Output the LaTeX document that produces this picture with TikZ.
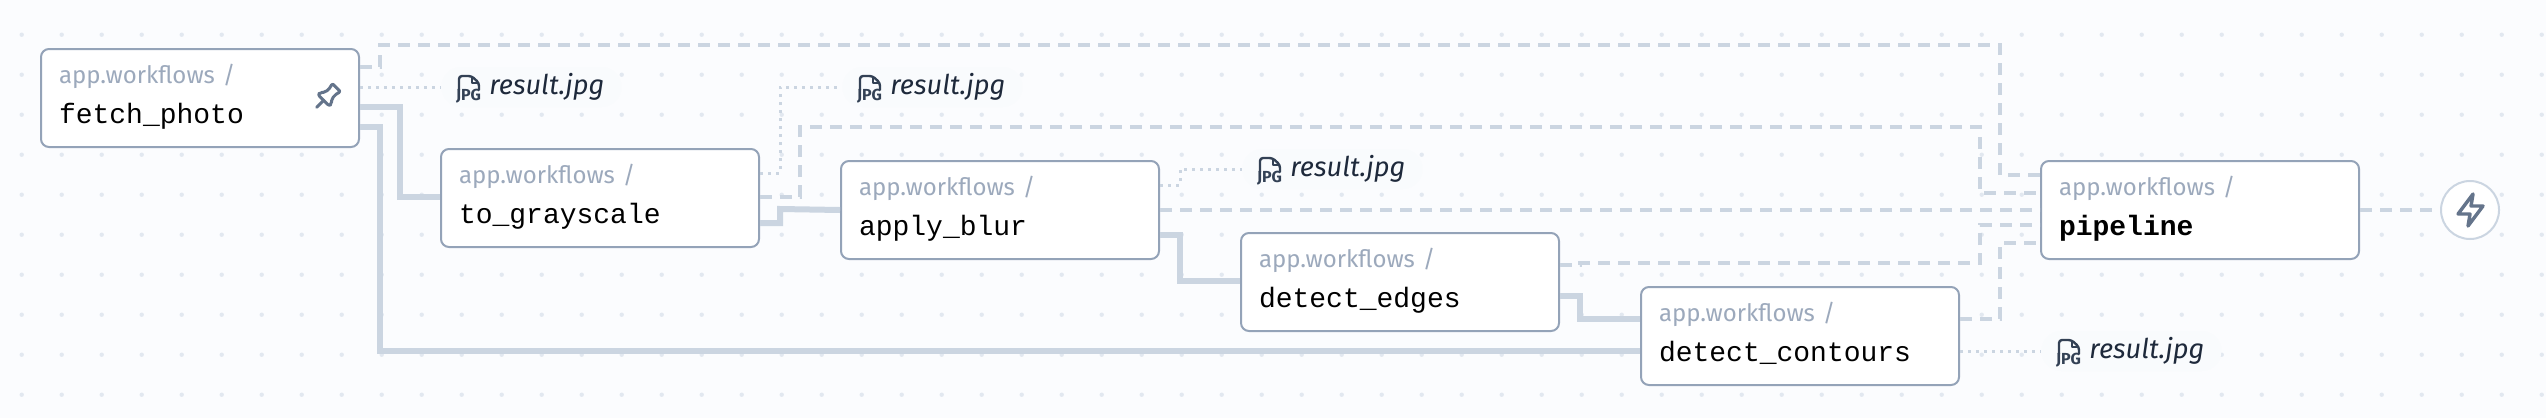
\documentclass[tikz,border=0pt]{standalone}
\usepackage{fontspec}
\setmainfont{Fira Sans}
\newfontfamily\codefont{Liberation Mono}
\usetikzlibrary{calc}
\definecolor{canvasbg}{HTML}{FBFCFE}
\definecolor{griddot}{HTML}{E2E8F0}
\definecolor{edgeline}{HTML}{CBD5E1}
\definecolor{boxline}{HTML}{94A3B8}
\definecolor{pkgtext}{HTML}{9CA9BC}
\definecolor{iconline}{HTML}{64748B}
\definecolor{chipfill}{HTML}{F9FBFD}
\definecolor{chiptext}{HTML}{1E293B}
\definecolor{jpgline}{HTML}{334155}
\newcommand{\wflabel}[2][]{{\color{pkgtext}\fontsize{12}{20}\selectfont app.workflows /\strut}\\[0pt]{\codefont#1\fontsize{14}{20}\selectfont #2\rule[-9pt]{0pt}{1pt}}}
\newcommand{\chiplabel}{\makebox[90pt][l]{\hspace{24pt}result.jpg}}
\tikzset{
  wfbox/.style={
    draw=boxline,
    fill=white,
    line width=1pt,
    rounded corners=4pt,
    minimum width=159pt,
    minimum height=49pt,
    inner sep=0pt,
    text width=141pt,
    align=left,
    font=\fontsize{12}{20}\selectfont
  },
  chipbox/.style={
    fill=chipfill,
    rounded corners=10pt,
    minimum width=90pt,
    minimum height=20pt,
    inner sep=0pt,
    text=chiptext,
    font=\fontsize{13.6}{16}\selectfont\itshape
  },
  solidedge/.style={draw=edgeline, line width=3pt},
  dashedge/.style={draw=edgeline, line width=2pt, dash pattern=on 6pt off 4pt},
  dotedge/.style={draw=edgeline, line width=1.5pt, dash pattern=on 1.5pt off 2.5pt},
  iconstroke/.style={line width=1.5pt, line join=round, line cap=round}
}
\newcommand{\jpgicon}[1]{
  \draw[jpgline, line width=1.2pt, line join=round, rounded corners=1.5pt] ($(#1.west)+(18,3)$) -- ++(0,-14) -- ++(12.5,0) -- ++(7.5,7) -- ++(0,7);
  \draw[jpgline, line width=1pt, line join=round] ($(#1.west)+(30.5,-11)$) -- ++(0,7) -- ++(7.5,0);
  \node[inner sep=0pt, text=jpgline, font=\fontsize{8}{8}\selectfont\upshape\bfseries] at ($(#1.west)+(27.5,9.5)$) {JPG};
}
\begin{document}
\begin{tikzpicture}[x=0.5pt, y=-0.5pt]
  \fill[canvasbg] (0,0) rectangle (2546,418);
  \useasboundingbox (0,0) rectangle (2546,418);
  \foreach \i in {0,...,63}{
    \foreach \j in {0,...,9}{
      \fill[griddot] ({21.7+40*\i},{34.7+40*\j}) circle (2.2);
    }
  }
  \node[wfbox] (fetch) at (200,98) {\wflabel{fetch\_photo}};
  \node[wfbox] (gray) at (600,198) {\wflabel{to\_grayscale}};
  \node[wfbox] (blur) at (1000,210) {\wflabel{apply\_blur}};
  \node[wfbox] (edges) at (1400,282) {\wflabel{detect\_edges}};
  \node[wfbox] (contours) at (1800,336) {\wflabel{detect\_contours}};
  \node[wfbox] (pipe) at (2200,210) {\wflabel[\bfseries]{pipeline}};
  \node[draw=edgeline, fill=white, line width=1pt, circle, minimum size=29pt, inner sep=0pt] (trigger) at (2470,210) {};

  \node[chipbox, anchor=west] (res1) at (441,87) {\chiplabel};
  \node[chipbox, anchor=west] (res2) at (842,87) {\chiplabel};
  \node[chipbox, anchor=west] (res3) at (1242,169) {\chiplabel};
  \node[chipbox, anchor=west] (res4) at (2041,351) {\chiplabel};
  \foreach \c in {res1,res2,res3,res4}{
    \jpgicon{\c}
  }

  % solid
  \draw[solidedge] ($(fetch.east)+(0,9)$) -| (400,197) -- ($(gray.west)+(0,-1)$);
  \draw[solidedge] ($(fetch.east)+(0,29)$) -| (380,351) -- ($(contours.west)+(0,15)$);
  \draw[solidedge] ($(gray.east)+(0,25)$) -| (780,209) -- (blur.west);
  \draw[solidedge] ($(blur.east)+(0,25)$) -| (1180,281) -- ($(edges.west)+(0,-1)$);
  \draw[solidedge] ($(edges.east)+(0,14)$) -| (1580,319) -- ($(contours.west)+(0,-17)$);

  % dashed
  \draw[dashedge] ($(fetch.east)+(0,-31)$) -| (380,45) -| (2000,175) -- ($(pipe.west)+(0,-35)$);
  \draw[dashedge] ($(gray.east)+(0,-1)$) -| (800,127) -| (1980,193) -- ($(pipe.west)+(0,-17)$);
  \draw[dashedge] (blur.east) -- (pipe.west);
  \draw[dashedge] ($(edges.east)+(0,-17)$) -| (1580,263) -| (1980,225) -- ($(pipe.west)+(0,15)$);
  \draw[dashedge] ($(contours.east)+(0,-17)$) -| (2000,243) -- ($(pipe.west)+(0,33)$);
  \draw[dashedge] (pipe.east) -- (trigger.west);

  % dotted
  \draw[dotedge] ($(fetch.east)+(0,-11)$) -- (res1.west);
  \draw[dotedge] ($(gray.east)+(0,-25)$) -| (780,87) -- (res2.west);
  \draw[dotedge] ($(blur.east)+(0,-25)$) -| (1180,169) -- (res3.west);
  \draw[dotedge] ($(contours.east)+(0,15)$) -- (res4.west);

  % pin on the first box
  \begin{scope}[shift={(326.5,97.5)}, rotate=-45, x=0.5pt, y=-0.5pt]
    \draw[iconline, iconstroke, rounded corners=1pt] (-6,-14) -- (6,-14) -- (4.5,-11) -- (4.5,-3) -- (8,1) -- (8,4) -- (-8,4) -- (-8,1) -- (-4.5,-3) -- (-4.5,-11) -- cycle;
    \draw[iconline, iconstroke] (0,4) -- (0,14);
  \end{scope}
  % bolt in the trigger circle
  \draw[iconline, iconstroke, line width=1.7pt] (2473,194) -- (2458,214) -- (2470,214) -- (2468,226) -- (2483,206) -- (2471,206) -- cycle;
\end{tikzpicture}
\end{document}
